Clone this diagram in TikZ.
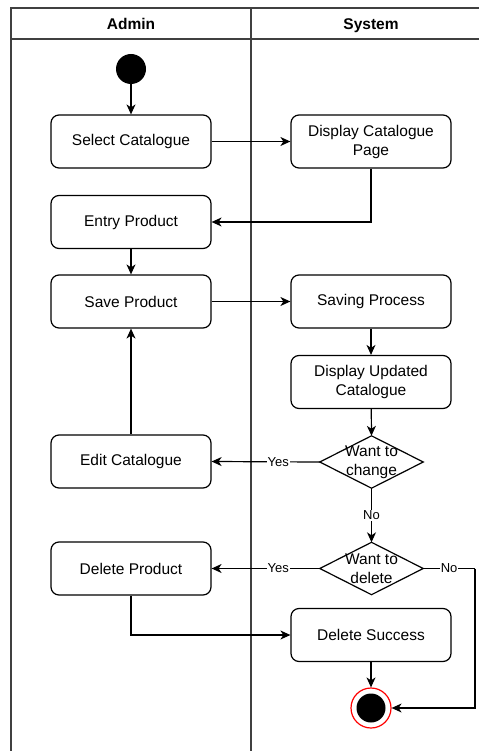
\documentclass[tikz,border=0pt]{standalone}
\usepackage{fontspec}
\setmainfont{Liberation Sans}
\usetikzlibrary{arrows.meta}
\begin{document}
\begin{tikzpicture}[x=1pt,y=-1pt,
  act/.style={draw, rounded corners=8pt, line width=1.2pt, minimum width=160pt,
    minimum height=53pt, align=center, inner sep=0pt,
    font=\fontsize{15.5}{19}\selectfont},
  decbox/.style={minimum width=103pt, minimum height=52pt, inner sep=0pt,
    align=center, font=\fontsize{15.5}{19}\selectfont},
  flow/.style={line width=1.2pt, -{Stealth[length=10pt,width=9pt,inset=3pt]}},
  lbl/.style={fill=white, inner sep=1pt, font=\fontsize{13}{15}\selectfont},
  lane/.style={line width=1.6pt, draw=black!75},
  hdr/.style={anchor=base, inner sep=0pt, font=\fontsize{15.5}{19}\selectfont\bfseries}]
\useasboundingbox (0,0) rectangle (479,751);

% swimlane frame
\draw[lane] (11,751) -- (11,8) -- (479,8);
\draw[lane] (11,39) -- (479,39);
\draw[lane] (251,8) -- (251,751);
\node[hdr] (hadmin) at (131,29.5) {Admin};
\node[hdr] (hsys) at (371,29.5) {System};

% initial node
\node[circle, fill=black, minimum size=30pt, inner sep=0pt] (start) at (131,69) {};

% activities
\node[act] (sel) at (131,141.5) {Select Catalogue};
\node[act] (disp) at (371,141.5) {Display Catalogue\\Page};
\node[act] (entry) at (131,222) {Entry Product};
\node[act] (save) at (131,301.5) {Save Product};
\node[act] (saving) at (371,301.5) {Saving Process};
\node[act] (upd) at (371,382) {Display Updated\\Catalogue};
\node[act] (edit) at (131,461.5) {Edit Catalogue};
\node[act] (delp) at (131,568.5) {Delete Product};
\node[act] (succ) at (371,635) {Delete Success};

% decisions
\node[decbox] (chg) at (371.5,462) {Want to\\change};
\draw[line width=1.2pt] (chg.north) -- (chg.east) -- (chg.south) -- (chg.west) -- cycle;
\node[decbox] (del) at (371.5,568.5) {Want to\\delete};
\draw[line width=1.2pt] (del.north) -- (del.east) -- (del.south) -- (del.west) -- cycle;

% final node
\node[circle, draw=red, line width=1.2pt, fill=white, minimum size=40pt, inner sep=0pt] (endc) at (371,708) {};
\node[circle, fill=black, minimum size=29pt, inner sep=0pt] (endin) at (endc) {};

\coordinate (turn) at (475,568.5);

% connectors
\draw[flow] (start) -- (sel);
\draw[flow] (sel) -- (disp);
\draw[flow] (disp.south) |- (entry.east);
\draw[flow] (entry) -- (save);
\draw[flow] (save) -- (saving);
\draw[flow] (saving) -- (upd);
\draw[flow] (upd) -- (chg.north);
\draw[flow] (chg.west) -- node[lbl, pos=0.385] {Yes} (edit.east);
\draw[flow] (edit.north) -- (save.south);
\draw[flow] (chg.south) -- node[lbl] {No} (del.north);
\draw[flow] (del.west) -- node[lbl, pos=0.385] {Yes} (delp.east);
\draw[line width=1.2pt] (del.east) -- node[lbl] {No} (turn);
\draw[flow] (turn) |- (endc.east);
\draw[flow] (delp.south) |- (succ.west);
\draw[flow] (succ) -- (endc);
\end{tikzpicture}
\end{document}
